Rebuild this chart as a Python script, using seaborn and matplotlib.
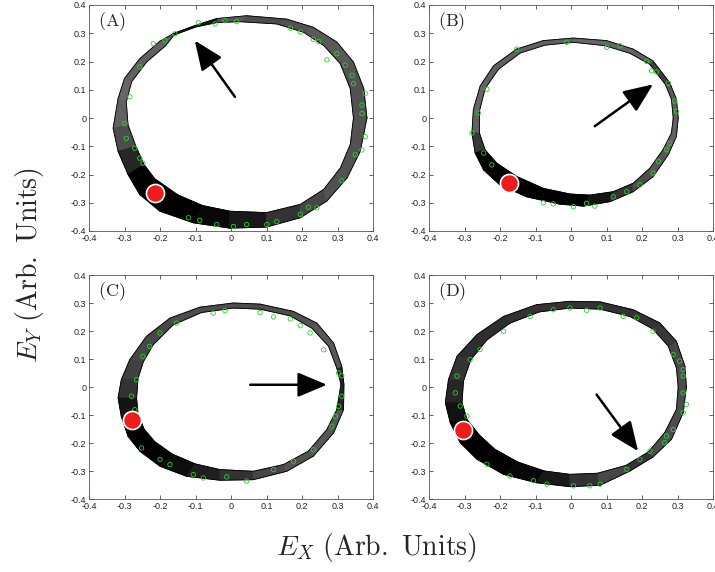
import numpy as np
import pandas as pd
import matplotlib
matplotlib.use("Agg")
import matplotlib.pyplot as plt
from matplotlib.collections import PolyCollection
import seaborn as sns

# ---- trajectory bands: outer / inner edge of the orbit, and line density per segment ----
A_OUTER = [(0.383, 0.000), (0.374, 0.104), (0.345, 0.198), (0.298, 0.269), (0.232, 0.321),
           (0.157, 0.350), (0.044, 0.362), (-0.040, 0.352), (-0.100, 0.328), (-0.160, 0.300),
           (-0.200, 0.272), (-0.257, 0.210), (-0.300, 0.140), (-0.318, 0.069), (-0.332, -0.036),
           (-0.318, -0.118), (-0.290, -0.200), (-0.257, -0.271), (-0.200, -0.330), (-0.106, -0.371),
           (-0.003, -0.390), (0.100, -0.386), (0.195, -0.353), (0.270, -0.294), (0.327, -0.212),
           (0.364, -0.118)]
A_INNER = [(0.345, 0.000), (0.336, 0.104), (0.308, 0.192), (0.261, 0.257), (0.204, 0.304),
           (0.129, 0.333), (0.025, 0.341), (-0.040, 0.338), (-0.100, 0.322), (-0.160, 0.294),
           (-0.185, 0.255), (-0.238, 0.198), (-0.280, 0.128), (-0.295, 0.057), (-0.290, -0.025),
           (-0.268, -0.100), (-0.245, -0.165), (-0.215, -0.215), (-0.150, -0.272), (-0.080, -0.310),
           (-0.003, -0.330), (0.100, -0.335), (0.195, -0.306), (0.261, -0.253), (0.308, -0.177),
           (0.336, -0.094)]
A_DENSITY = [0.68, 0.68, 0.65, 0.65, 0.68, 0.7, 0.65, 0.9, 0.9, 0.62, 0.62, 0.62, 0.6,
             0.62, 0.7, 0.85, 1.0, 1.0, 1.0, 0.97, 0.9, 0.8, 0.72, 0.68, 0.68, 0.68]

B_OUTER = [(0.302, 0.000), (0.297, 0.066), (0.278, 0.125), (0.231, 0.202), (0.175, 0.244),
           (0.100, 0.274), (0.007, 0.283), (-0.078, 0.274), (-0.153, 0.244), (-0.218, 0.185),
           (-0.256, 0.113), (-0.275, 0.030), (-0.279, -0.053), (-0.270, -0.124), (-0.246, -0.184),
           (-0.200, -0.237), (-0.125, -0.279), (-0.031, -0.305), (0.035, -0.312), (0.110, -0.296),
           (0.175, -0.261), (0.231, -0.208), (0.274, -0.130), (0.297, -0.065)]
B_INNER = [(0.288, 0.000), (0.283, 0.066), (0.266, 0.119), (0.222, 0.190), (0.166, 0.229),
           (0.096, 0.256), (0.007, 0.268), (-0.073, 0.258), (-0.143, 0.230), (-0.204, 0.173),
           (-0.242, 0.104), (-0.258, 0.024), (-0.258, -0.053), (-0.242, -0.113), (-0.209, -0.160),
           (-0.153, -0.207), (-0.078, -0.249), (-0.003, -0.269), (0.053, -0.273), (0.119, -0.261),
           (0.175, -0.231), (0.222, -0.178), (0.259, -0.113), (0.283, -0.053)]
B_DENSITY = [0.62, 0.65, 0.75, 0.62, 0.6, 0.6, 0.62, 0.62, 0.62, 0.62, 0.6, 0.62,
             0.78, 1.0, 1.0, 1.0, 1.0, 1.0, 0.92, 0.8, 0.7, 0.66, 0.62, 0.62]

C_OUTER = [(0.318, 0.010), (0.312, 0.074), (0.289, 0.157), (0.242, 0.228), (0.176, 0.270),
           (0.082, 0.296), (0.007, 0.300), (-0.088, 0.285), (-0.172, 0.246), (-0.238, 0.181),
           (-0.285, 0.098), (-0.309, 0.026), (-0.318, -0.039), (-0.309, -0.105), (-0.290, -0.176),
           (-0.257, -0.229), (-0.200, -0.283), (-0.125, -0.319), (-0.031, -0.333), (0.063, -0.331),
           (0.157, -0.301), (0.232, -0.247), (0.289, -0.164), (0.317, -0.081)]
C_INNER = [(0.310, 0.010), (0.298, 0.068), (0.275, 0.145), (0.228, 0.210), (0.167, 0.254),
           (0.082, 0.278), (0.007, 0.282), (-0.083, 0.266), (-0.163, 0.222), (-0.219, 0.151),
           (-0.247, 0.090), (-0.262, 0.030), (-0.266, -0.040), (-0.262, -0.095), (-0.245, -0.150),
           (-0.215, -0.195), (-0.165, -0.240), (-0.100, -0.275), (-0.031, -0.295), (0.063, -0.301),
           (0.148, -0.277), (0.218, -0.229), (0.270, -0.152), (0.298, -0.081)]
C_DENSITY = [0.85, 0.66, 0.66, 0.68, 0.7, 0.7, 0.7, 0.7, 0.72, 0.72, 0.75, 0.8,
             0.92, 1.0, 1.0, 1.0, 0.95, 0.88, 0.8, 0.72, 0.68, 0.66, 0.66, 0.85]

D_OUTER = [(0.325, 0.000), (0.321, 0.074), (0.297, 0.163), (0.250, 0.229), (0.175, 0.276),
           (0.082, 0.304), (-0.003, 0.306), (-0.097, 0.294), (-0.190, 0.252), (-0.265, 0.187),
           (-0.321, 0.110), (-0.345, 0.027), (-0.354, -0.056), (-0.340, -0.128), (-0.312, -0.199),
           (-0.265, -0.258), (-0.190, -0.312), (-0.097, -0.342), (-0.003, -0.356), (0.082, -0.351),
           (0.166, -0.300), (0.231, -0.250), (0.283, -0.187), (0.316, -0.092)]
D_INNER = [(0.302, 0.000), (0.297, 0.068), (0.274, 0.146), (0.231, 0.207), (0.166, 0.252),
           (0.082, 0.278), (-0.003, 0.282), (-0.090, 0.268), (-0.172, 0.228), (-0.237, 0.168),
           (-0.282, 0.098), (-0.303, 0.021), (-0.307, -0.056), (-0.293, -0.116), (-0.258, -0.172),
           (-0.215, -0.222), (-0.150, -0.268), (-0.075, -0.300), (-0.003, -0.312), (0.075, -0.308),
           (0.155, -0.280), (0.218, -0.232), (0.264, -0.163), (0.297, -0.080)]
D_DENSITY = [0.7, 0.72, 0.78, 0.8, 0.8, 0.8, 0.8, 0.8, 0.82, 0.82, 0.8, 0.85,
             0.93, 1.0, 1.0, 1.0, 0.97, 0.9, 0.8, 0.72, 0.8, 0.7, 0.7, 0.7]

# ---- sampled points (green circles) ----
A_SAMPLES_X = [-0.092, -0.045, -0.017, 0.016, 0.167, 0.195, 0.232, 0.247, 0.270, 0.298, 0.322, 0.341,
               0.345, 0.378, 0.369, 0.369, 0.378, 0.369, 0.350, 0.312, 0.242, 0.218, 0.195, 0.129,
               0.101, 0.044, 0.007, -0.040, -0.088, -0.120, -0.248, -0.257, -0.271, -0.295, -0.299,
               -0.285, -0.257, -0.219, -0.186, -0.158]
A_SAMPLES_Y = [0.337, 0.333, 0.345, 0.341, 0.318, 0.304, 0.278, 0.271, 0.206, 0.228, 0.187, 0.151,
               0.122, 0.087, 0.046, 0.016, -0.066, -0.113, -0.130, -0.222, -0.318, -0.316, -0.341, -0.367,
               -0.377, -0.377, -0.384, -0.377, -0.362, -0.353, -0.160, -0.142, -0.107, -0.072, -0.019,
               0.075, 0.181, 0.263, 0.274, 0.298]

B_SAMPLES_X = [-0.012, 0.100, 0.138, 0.213, 0.227, 0.241, 0.274, 0.292, 0.297, 0.278, 0.269, 0.246,
               0.231, 0.194, 0.157, 0.119, 0.067, 0.044, 0.007, -0.050, -0.078, -0.153, -0.237, -0.261,
               -0.279, -0.246, -0.223]
B_SAMPLES_Y = [0.268, 0.250, 0.256, 0.200, 0.167, 0.163, 0.123, 0.060, 0.024, -0.089, -0.112, -0.154,
               -0.195, -0.237, -0.261, -0.279, -0.312, -0.302, -0.314, -0.304, -0.300, 0.244, 0.102, 0.018,
               -0.053, -0.124, -0.166]

C_SAMPLES_X = [-0.050, -0.017, 0.082, 0.120, 0.167, 0.195, 0.223, 0.261, 0.303, 0.312, 0.312, 0.303,
               0.294, 0.284, 0.232, 0.176, 0.120, 0.044, -0.012, -0.078, -0.106, -0.172, -0.200, -0.252,
               -0.271, -0.280, -0.266, -0.248, -0.229, -0.200, -0.153]
C_SAMPLES_Y = [0.264, 0.273, 0.266, 0.250, 0.243, 0.219, 0.193, 0.133, 0.050, 0.040, -0.033, -0.069,
               -0.105, -0.140, -0.224, -0.265, -0.295, -0.336, -0.321, -0.325, -0.313, -0.277, -0.259, -0.218,
               -0.081, -0.033, 0.026, 0.109, 0.145, 0.193, 0.228]

D_SAMPLES_X = [-0.115, -0.050, -0.003, 0.044, 0.082, 0.147, 0.185, 0.231, 0.288, 0.306, 0.316, 0.316,
               0.316, 0.325, 0.316, 0.288, 0.269, 0.264, 0.222, 0.194, 0.157, 0.082, 0.053, 0.007,
               -0.068, -0.106, -0.172, -0.237, -0.293, -0.312, -0.326, -0.321, -0.284, -0.256, -0.190]
D_SAMPLES_Y = [0.252, 0.276, 0.282, 0.274, 0.282, 0.252, 0.247, 0.199, 0.116, 0.092, 0.062, 0.039,
               -0.021, -0.062, -0.092, -0.152, -0.175, -0.199, -0.229, -0.258, -0.294, -0.347, -0.353, -0.353,
               -0.347, -0.335, -0.318, -0.276, -0.104, -0.068, -0.021, 0.039, 0.098, 0.134, 0.199]

# ---- highlighted state (red dot) and arrows (tail -> head) ----
MARKERS = {"A": (-0.215, -0.265), "B": (-0.176, -0.231), "C": (-0.280, -0.117), "D": (-0.303, -0.155)}
ARROW_TAILS = {"A": (0.011, 0.075), "B": (0.067, -0.029), "C": (0.054, 0.008), "D": (0.072, -0.027)}
ARROW_HEADS = {"A": (-0.102, 0.274), "B": (0.231, 0.119), "C": (0.270, 0.008), "D": (0.189, -0.229)}

TICKS = [-0.4, -0.3, -0.2, -0.1, 0.0, 0.1, 0.2, 0.3, 0.4]
TICK_LABELS = ["-0.4", "-0.3", "-0.2", "-0.1", "0", "0.1", "0.2", "0.3", "0.4"]

PANELS = {
    "A": (A_OUTER, A_INNER, A_DENSITY, A_SAMPLES_X, A_SAMPLES_Y),
    "B": (B_OUTER, B_INNER, B_DENSITY, B_SAMPLES_X, B_SAMPLES_Y),
    "C": (C_OUTER, C_INNER, C_DENSITY, C_SAMPLES_X, C_SAMPLES_Y),
    "D": (D_OUTER, D_INNER, D_DENSITY, D_SAMPLES_X, D_SAMPLES_Y),
}

sns.set_style("ticks")
plt.rcParams["font.family"] = ["Liberation Sans", "DejaVu Sans"]
plt.rcParams["mathtext.fontset"] = "cm"

fig = plt.figure(figsize=(7.15, 5.72), dpi=100)
W, H = 715.0, 572.0
# axes boxes in pixels: left, top, right, bottom
BOXES = {"A": (89, 5, 373, 231), "B": (429, 5, 713, 231),
         "C": (89, 275, 373, 499), "D": (429, 275, 713, 499)}


def closed_frame(points):
    pts = list(points) + [points[0]]
    return pd.DataFrame(pts, columns=["x", "y"])


for name, (outer, inner, density, sx, sy) in PANELS.items():
    l, t, r, b = BOXES[name]
    ax = fig.add_axes([l / W, 1 - b / H, (r - l) / W, (b - t) / H])

    # band of overlapping orbits, shaded by how densely the loops pile up
    n = len(outer)
    quads, shades = [], []
    for i in range(n):
        j = (i + 1) % n
        quads.append([outer[i], outer[j], inner[j], inner[i]])
        g = 1.0 - density[i]
        shades.append((g, g, g))
    ax.add_collection(PolyCollection(quads, facecolors=shades, edgecolors=shades,
                                     linewidths=0.6, zorder=1))

    for edge in (outer, inner):
        sns.lineplot(data=closed_frame(edge), x="x", y="y", sort=False, estimator=None,
                     color="black", linewidth=0.6, ax=ax, zorder=2)

    sns.scatterplot(x=sx, y=sy, s=10, marker="o", facecolors="none",
                    edgecolor="#2fd02f", linewidth=0.6, ax=ax, zorder=3)

    mx, my = MARKERS[name]
    sns.scatterplot(x=[mx], y=[my], s=170, color="#ee1c1c", edgecolor="white",
                    linewidth=1.2, ax=ax, zorder=5)

    ax.annotate("", xy=ARROW_HEADS[name], xytext=ARROW_TAILS[name],
                arrowprops=dict(arrowstyle="-|>,head_length=0.9,head_width=0.38",
                                mutation_scale=20, lw=1.8, color="black",
                                shrinkA=0, shrinkB=0), zorder=6)

    ax.text(0.03, 0.975, r"$\mathrm{(" + name + ")}$", transform=ax.transAxes,
            ha="left", va="top", fontsize=13)

    ax.set_xlim(-0.4, 0.4)
    ax.set_ylim(-0.4, 0.4)
    ax.set_xticks(TICKS)
    ax.set_xticklabels(TICK_LABELS)
    ax.set_yticks(TICKS)
    ax.set_yticklabels(TICK_LABELS)
    ax.set_xlabel("")
    ax.set_ylabel("")
    ax.tick_params(direction="in", length=3, width=0.5, top=True, right=True,
                   labelsize=6.5, pad=2, colors="#222222")
    for sp in ax.spines.values():
        sp.set_visible(True)
        sp.set_linewidth(0.6)
        sp.set_color("#555555")

fig.text(376 / W, 1 - 548 / H, r"$E_X\ \mathrm{(Arb.\ Units)}$", ha="center", va="center",
         fontsize=20)
fig.text(30 / W, 1 - 265 / H, r"$E_Y\ \mathrm{(Arb.\ Units)}$", ha="center", va="center",
         rotation=90, fontsize=20)

fig.savefig("out.png", dpi=100)
